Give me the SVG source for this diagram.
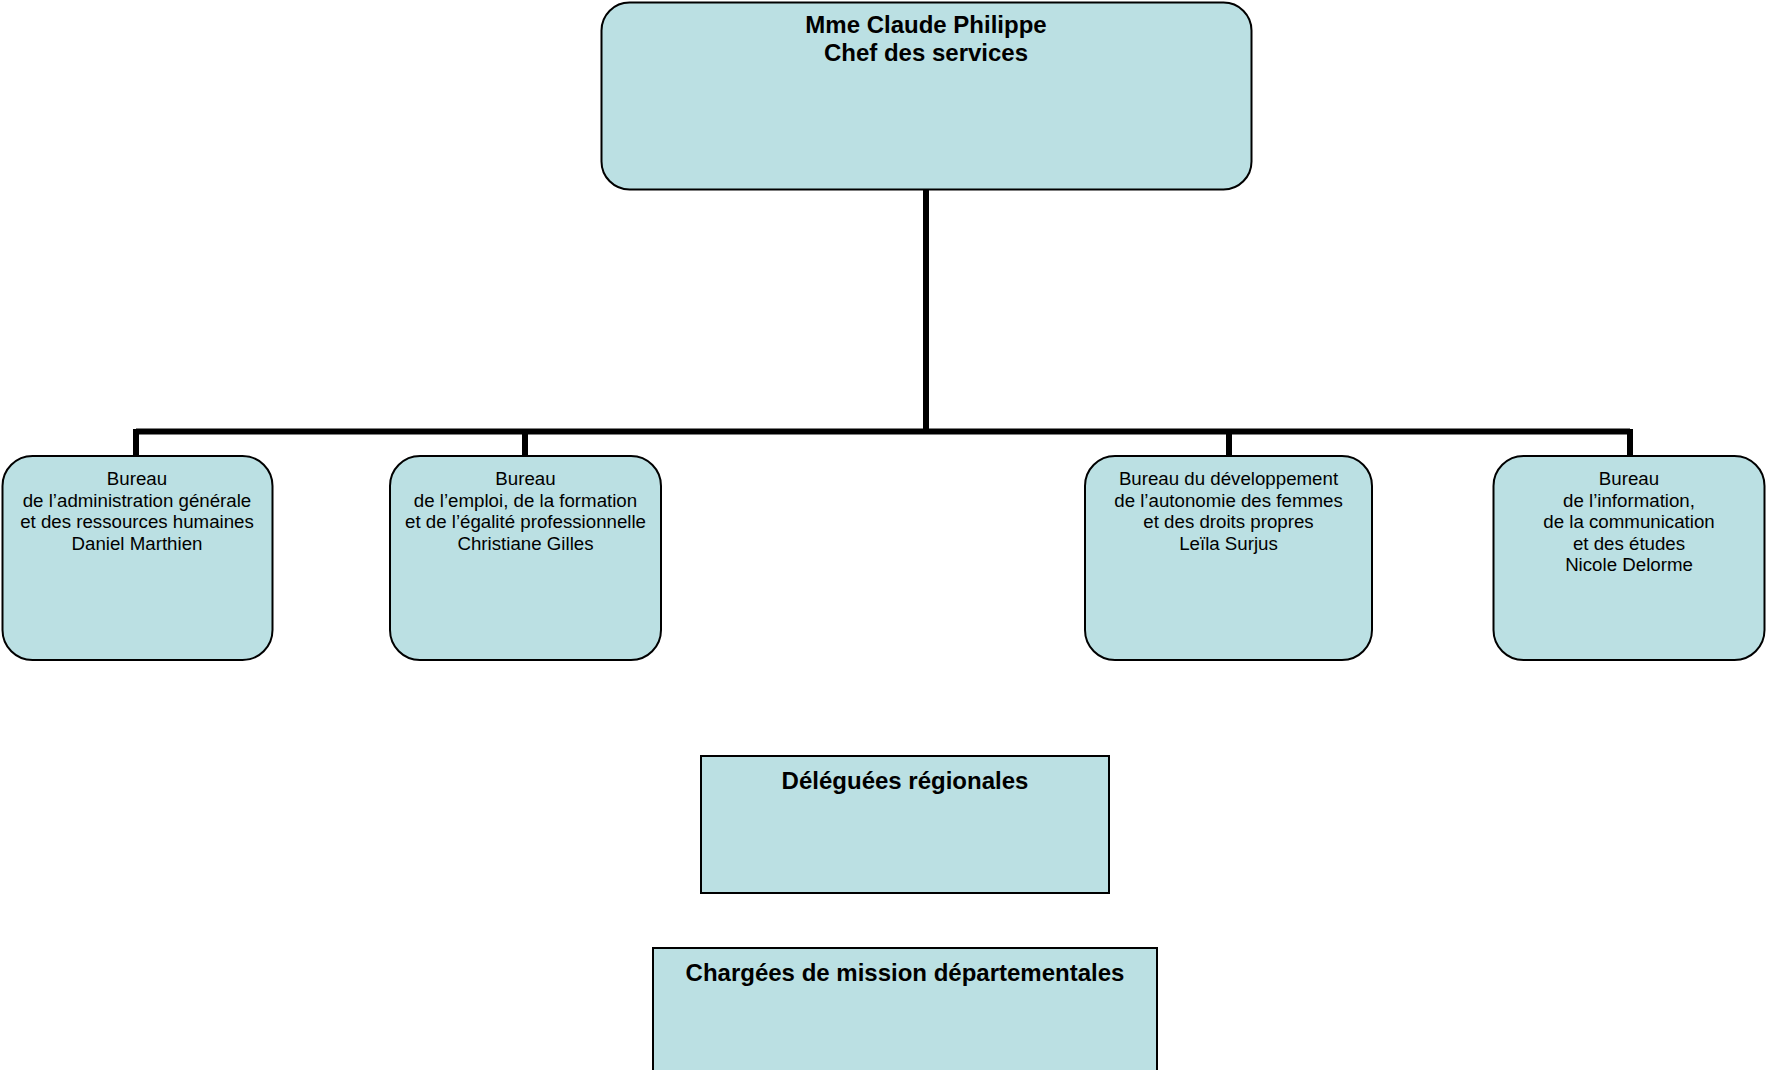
<svg xmlns="http://www.w3.org/2000/svg" width="1766" height="1070" viewBox="0 0 1766 1070">
<style>
.box{fill:#bbe0e3;stroke:#000;stroke-width:2}
.t{font-family:"Liberation Sans",Arial,sans-serif;text-anchor:middle;fill:#000}
.b{font-size:24px;font-weight:bold}
.s{font-size:18.7px}
.conn{stroke:#000;stroke-width:6;fill:none}
</style>
<rect width="1766" height="1070" fill="#fff"/>
<g id="connectors">
<path class="conn" d="M926 189V431.5M136 431.5H1630M136 429V456M525 429V456M1229 429V456M1630 429V456"/>
</g>
<g id="chef">
<rect class="box" x="601.5" y="2.5" width="650" height="187" rx="28"/>
<text class="t b" x="926" y="33">Mme Claude Philippe</text>
<text class="t b" x="926" y="61">Chef des services</text>
</g>
<g id="bureau1">
<rect class="box" x="2.5" y="456" width="270" height="204" rx="30"/>
<text class="t s" x="137" y="485">Bureau</text>
<text class="t s" x="137" y="506.5">de l’administration générale</text>
<text class="t s" x="137" y="528">et des ressources humaines</text>
<text class="t s" x="137" y="549.5">Daniel Marthien</text>
</g>
<g id="bureau2">
<rect class="box" x="390" y="456" width="271" height="204" rx="30"/>
<text class="t s" x="525.5" y="485">Bureau</text>
<text class="t s" x="525.5" y="506.5">de l’emploi, de la formation</text>
<text class="t s" x="525.5" y="528">et de l’égalité professionnelle</text>
<text class="t s" x="525.5" y="549.5">Christiane Gilles</text>
</g>
<g id="bureau3">
<rect class="box" x="1085" y="456" width="287" height="204" rx="30"/>
<text class="t s" x="1228.5" y="485">Bureau du développement</text>
<text class="t s" x="1228.5" y="506.5">de l’autonomie des femmes</text>
<text class="t s" x="1228.5" y="528">et des droits propres</text>
<text class="t s" x="1228.5" y="549.5">Leïla Surjus</text>
</g>
<g id="bureau4">
<rect class="box" x="1493.5" y="456" width="271" height="204" rx="30"/>
<text class="t s" x="1629" y="485">Bureau</text>
<text class="t s" x="1629" y="506.5">de l’information,</text>
<text class="t s" x="1629" y="528">de la communication</text>
<text class="t s" x="1629" y="549.5">et des études</text>
<text class="t s" x="1629" y="571">Nicole Delorme</text>
</g>
<g id="deleguees">
<rect class="box" x="701" y="756" width="408" height="137"/>
<text class="t b" x="905" y="789">Déléguées régionales</text>
</g>
<g id="chargees">
<rect class="box" x="653" y="948" width="504" height="130"/>
<text class="t b" x="905" y="981">Chargées de mission départementales</text>
</g>
</svg>
